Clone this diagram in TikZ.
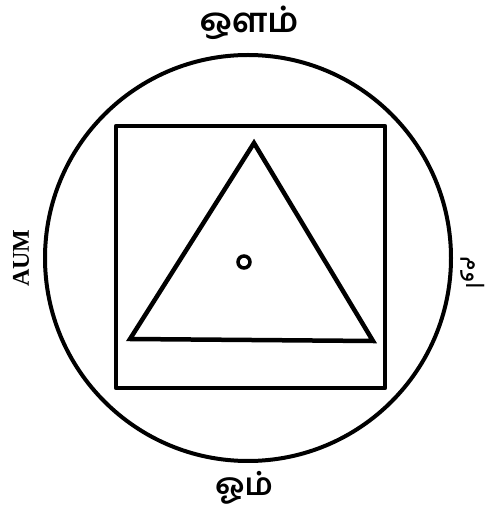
\documentclass[tikz,border=0pt]{standalone}
\usepackage{fontspec}
\usepackage{tikz}
\usetikzlibrary{positioning}
\TeXXeTstate=1
\newfontfamily\tamilfont[Script=Tamil]{Hind Madurai}
\newfontfamily\arabicfont[Script=Arabic]{DejaVu Sans}
\newfontfamily\timesfont{Liberation Serif}

\begin{document}
\begin{tikzpicture}[x=1pt, y=1pt, every node/.style={inner sep=0pt}, thickline/.style={line width=4.5pt}]
		\useasboundingbox (0,0) rectangle (487,509);
		
		% Shapes
		\node (centre) at (248,251) {};
		\draw[line width=4pt] (centre) circle (203);
		\draw[thickline, line join=round] (116,383) rectangle (385,121);
		
		\coordinate (apex) at (254,366);
		\coordinate (left) at (130,170);
		\coordinate (right) at (373,168);
		\draw[thickline, line join=miter] (apex) -- (left) -- (right) -- cycle;
		
		\node (dot) at (244,247) {};
		\draw[line width=3.5pt] (dot) circle (6);
		
		% Labels
		\node (top) at (249,486) {\tamilfont\bfseries\fontsize{34}{34}\selectfont ஔம்};
		\node (bottom) at (244,21) {\tamilfont\bfseries\fontsize{31}{31}\selectfont ஓம்};
		\node[rotate=90] (aum) at (21,251) {\timesfont\bfseries\fontsize{24}{24}\selectfont AUM};
		\node[rotate=-90] (urdu) at (473,236) {\arabicfont\fontsize{24}{24}\selectfont\beginR اوم\endR};
		
	\end{tikzpicture}
\end{document}
